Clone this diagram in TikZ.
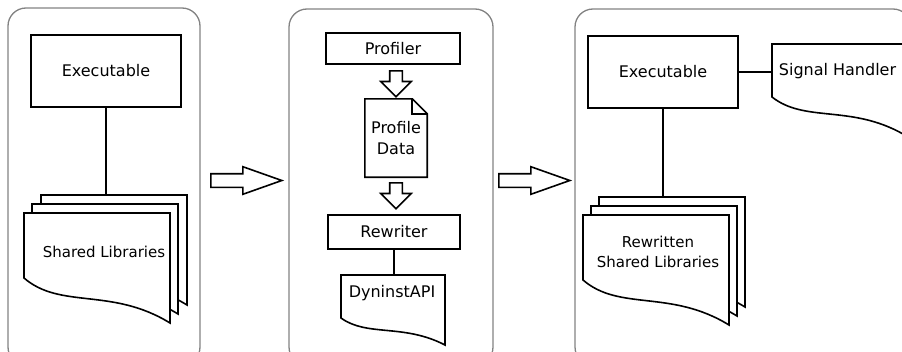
\documentclass[tikz,border=0pt]{standalone}
\usepackage{fontspec}
\setmainfont{DejaVu Sans}
\usepackage{xcolor}
\usetikzlibrary{shapes.arrows, calc}
\definecolor{panelgray}{RGB}{130,130,130}
\pgfdeclarelayer{background}
\pgfsetlayers{background,main}

% document with a wavy bottom: left x, top y, width, left height, extra drop on the right
\newcommand{\docshape}[5]{%
  \draw[docline] (#1,#2) -- ({#1+#3},#2) -- ({#1+#3},{#2+#4+#5})
    .. controls ({#1+0.6*#3},{#2+#4+0.2*#5}) and ({#1+0.25*#3},{#2+#4+0.7*#5})
    .. (#1,{#2+#4}) -- cycle;}

\tikzset{
  box/.style={draw, line width=1.6pt, fill=white, inner sep=0pt,
              font=\fontsize{16}{19}\selectfont},
  doctext/.style={font=\fontsize{15}{20}\selectfont, align=center, inner sep=1pt},
  docline/.style={draw, line width=1.6pt, fill=white},
  link/.style={line width=1.6pt},
  stage/.style={draw=panelgray, line width=1.3pt, rounded corners=18pt},
  bigarrow/.style={single arrow, draw, line width=1.6pt, fill=white, anchor=tail,
                   inner xsep=0pt, inner ysep=6pt, single arrow head extend=7pt,
                   single arrow tip angle=39, minimum height=71pt},
  smallarrow/.style={single arrow, draw, line width=1.6pt, fill=white, anchor=tail,
                     inner xsep=0pt, inner ysep=5.5pt, single arrow head extend=9pt,
                     minimum height=26pt, rotate=-90},
}

\begin{document}
\begin{tikzpicture}[x=1pt, y=-1pt]
  \useasboundingbox (0,0) rectangle (902,351);
  \clip (0,0) rectangle (902,351);

  % --- original program ---
  \node[box, minimum width=150, minimum height=72] (exe) at (106,71) {Executable};
  \node[doctext] (libs) at (104,252) {Shared Libraries};

  \node[bigarrow] (fwdA) at (210,180.5) {};

  % --- profiling and rewriting ---
  \node[box, minimum width=134, minimum height=31] (profiler) at (393,48.5) {Profiler};
  \node[smallarrow] (downA) at (396,70) {};
  \node[font=\fontsize{16}{21}\selectfont, align=center, minimum width=62,
        minimum height=78, inner sep=0pt] (data) at (396,138) {Profile\\Data};
  \node[smallarrow] (downB) at (396,182) {};
  \node[box, minimum width=132, minimum height=34] (rewriter) at (394,232) {Rewriter};
  \node[doctext, font=\fontsize{16}{19}\selectfont] (api) at (392,293) {DyninstAPI};

  \node[bigarrow] (fwdB) at (498,180.5) {};

  % --- rewritten program ---
  \node[box, minimum width=150, minimum height=72] (exe2) at (663,72) {Executable};
  \node[doctext, font=\fontsize{16}{19}\selectfont] (handler) at (837.5,71) {Signal Handler};
  \node[doctext] (rlibs) at (658,252) {Rewritten\\Shared Libraries};

  \begin{pgfonlayer}{background}
    \draw[stage] (8,8) rectangle (200,365);
    \draw[stage] (289,9) rectangle (493,365);
    \draw[stage] (575,9) rectangle (911,365);

    \draw[link] (exe.south) -- (exe.south |- libs.north);
    \draw[link] (rewriter.south) -- (rewriter.south |- api.north);
    \draw[link] (exe2.east) -- (exe2.east -| handler.west);
    \draw[link] (exe2.south) -- (exe2.south |- rlibs.north);

    % stacked libraries, back to front
    \docshape{41}{195}{146}{65}{45}
    \docshape{32}{204}{146}{65}{45}
    \docshape{24}{213}{146}{65}{45}
    \docshape{599}{197}{146}{65}{45}
    \docshape{591}{206}{146}{65}{45}
    \docshape{583}{215}{146}{65}{45}
    \docshape{341}{275}{104}{43}{27}
    \docshape{772}{44}{131}{53}{37}

    % page with folded corner
    \draw[docline] (data.north west) -- ([xshift=-15]data.north east)
      -- ([yshift=-15]data.north east) -- (data.south east) -- (data.south west) -- cycle;
    \draw[link] ([xshift=-15]data.north east) |- ([yshift=-15]data.north east);
  \end{pgfonlayer}
\end{tikzpicture}
\end{document}
